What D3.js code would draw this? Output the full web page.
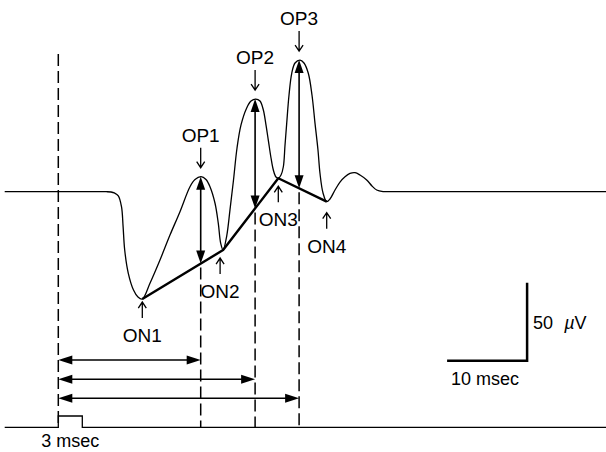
<!DOCTYPE html>
<html>
<head>
<meta charset="utf-8">
<script src="https://cdn.jsdelivr.net/npm/d3@7"></script>
<style>
  body { margin: 0; background: #fff; }
  svg text { font-family: "Liberation Sans", Arial, Helvetica, sans-serif; fill: #000; }
</style>
</head>
<body>
<div id="chart"></div>
<script>
// ERG trace, time in msec from the flash, amplitude in microvolts
const traceT = [-6.7, 3.0, 6.0, 6.6, 7.0, 7.5, 7.9, 8.1, 8.3, 8.75, 9.4, 9.96, 10.5,
  11.46, 12.71, 13.96, 15.21, 16.46, 17.09, 17.84, 18.46, 18.96, 19.59, 20.0, 20.3, 20.6,
  21.05, 21.46, 21.9, 22.34, 22.84, 23.55, 24.09, 24.68, 25.21, 25.63, 25.96, 26.25, 26.59, 26.88, 27.21, 27.5,
  27.84, 28.13, 28.34, 28.55, 28.84, 29.18, 29.59, 30.21, 30.71, 31.25, 31.71, 32.09, 32.46, 32.71, 33.09, 33.55,
  33.96, 34.59, 35.21, 35.84, 36.46, 37.09, 37.71, 38.55, 39.21, 39.8, 40.6, 41.4, 42.2, 45.0, 68.5];
const traceV = [0, 0, 0, -0.2, -0.8, -2.6, -9.6, -22.4, -37.4, -52.3, -63.0, -67.5, -68.8,
  -58.7, -43.8, -27.8, -12.8, 3.2, 7.8, 9.6, 7.8, 3.2, -7.4, -20.3, -33.1, -37.4,
  -28.4, -11.7, 7.5, 28.0, 42.8, 53.7, 58.1, 59.4, 58.1, 52.4, 42.8, 33.1, 21.6, 13.9, 9.4, 8.6,
  10.7, 16.0, 29.9, 43.8, 62.0, 75.9, 82.5, 84.4, 82.5, 75.9, 62.0, 43.8, 26.7, 11.8, -0.8, -6.4,
  -4.7, 1.1, 6.2, 9.6, 11.7, 12.2, 10.7, 7.5, 3.7, 1.1, 0.1, 0, 0, 0, 0];

// oscillatory potential peaks
const opNames = ["OP1", "OP2", "OP3"];
const opT = [17.8, 24.6, 30.1];
const opV = [9.6, 59.4, 84.4];

// troughs joined by the thick line
const onNames = ["ON1", "ON2", "ON3", "ON4"];
const onT = [10.5, 20.6, 27.5, 33.55];
const onV = [-68.8, -37.4, 8.6, -6.4];

// stimulus marker trace (3 msec flash)
const stimT = [-6.7, 0, 0, 3, 3, 68.5];
const stimLevel = [0, 0, 1, 1, 0, 0];

// calibration bars
const barMs = 10, barUv = 50;
const barCornerT = 58.6, barCornerV = -108.3;

const width = 606, height = 452;
const svg = d3.select("#chart").append("svg")
  .attr("width", width).attr("height", height);

const x = d3.scaleLinear().domain([0, 10]).range([58.3, 138.3]);
const y = d3.scaleLinear().domain([0, 50]).range([191.7, 113.7]);
const yStim = d3.scaleLinear().domain([0, 1]).range([427.3, 416]);
const yRow = d3.scaleLinear().domain([0, 2]).range([360, 398.3]);
const onLine = d3.scaleLinear().domain(onT).range(onV);

// filled triangle head, tip at (tx,ty), pointing in direction ang (radians)
function head(tx, ty, ang, len, w) {
  const bx = tx - len * Math.cos(ang), by = ty - len * Math.sin(ang);
  const px = -Math.sin(ang) * w / 2, py = Math.cos(ang) * w / 2;
  svg.append("path")
    .attr("d", `M${tx},${ty}L${bx + px},${by + py}L${bx - px},${by - py}Z`)
    .attr("fill", "#000");
}

// open label arrow
function smallArrow(x0, y0, y1) {
  const dir = y1 > y0 ? 1 : -1;
  svg.append("path")
    .attr("d", `M${x0},${y0}L${x0},${y1}M${x0 - 4},${y1 - dir * 6}L${x0},${y1}L${x0 + 4},${y1 - dir * 6}`)
    .attr("fill", "none").attr("stroke", "#000").attr("stroke-width", 1.3);
}

// dashed verticals
const dash = svg.append("g").attr("stroke", "#000").attr("stroke-width", 1.5)
  .attr("stroke-dasharray", "12,5");
dash.append("line").attr("x1", x(0)).attr("x2", x(0)).attr("y1", 54).attr("y2", yStim(0));
opT.forEach(t => {
  dash.append("line").attr("x1", x(t)).attr("x2", x(t))
    .attr("y1", y(onLine(t)) + 4).attr("y2", yStim(0));
});

// ERG trace
svg.append("path")
  .datum(traceT.map((t, i) => [t, traceV[i]]))
  .attr("fill", "none").attr("stroke", "#000").attr("stroke-width", 1.3)
  .attr("d", d3.line().x(d => x(d[0])).y(d => y(d[1])).curve(d3.curveCatmullRom.alpha(0.5)));

// thick line through the troughs
svg.append("path")
  .datum(onT.map((t, i) => [t, onV[i]]))
  .attr("fill", "none").attr("stroke", "#000").attr("stroke-width", 2.4)
  .attr("stroke-linejoin", "round")
  .attr("d", d3.line().x(d => x(d[0])).y(d => y(d[1])));

// OP amplitude double arrows
opT.forEach((t, i) => {
  const xx = x(t), top = y(opV[i]), bot = y(onLine(t));
  svg.append("line").attr("x1", xx).attr("x2", xx).attr("y1", top + 10).attr("y2", bot - 10)
    .attr("stroke", "#000").attr("stroke-width", 1.6);
  head(xx, top, -Math.PI / 2, 13, 9);
  head(xx, bot, Math.PI / 2, 13, 9);
});

// OP labels
opNames.forEach((name, i) => {
  const xx = x(opT[i]), tip = y(opV[i]) - 9;
  smallArrow(xx, tip - 20, tip);
  svg.append("text").attr("x", xx).attr("y", tip - 26)
    .attr("text-anchor", "middle").attr("font-size", 19).text(name);
});

// ON labels
const onGap = [3, 8, 8, 11], onDx = [0, -3, 0, 0];
onNames.forEach((name, i) => {
  const xx = x(onT[i]) + onDx[i], tip = y(onV[i]) + onGap[i];
  smallArrow(xx, tip + 16, tip);
  svg.append("text").attr("x", xx).attr("y", tip + 40)
    .attr("text-anchor", "middle").attr("font-size", 19).text(name);
});

// latency arrows from the flash to each OP
opT.forEach((t, i) => {
  const yy = yRow(i);
  svg.append("line").attr("x1", x(0) + 10).attr("x2", x(t) - 10).attr("y1", yy).attr("y2", yy)
    .attr("stroke", "#000").attr("stroke-width", 1.5);
  head(x(0), yy, Math.PI, 14, 9);
  head(x(t), yy, 0, 14, 9);
});

// stimulus trace
svg.append("path")
  .datum(stimT.map((t, i) => [t, stimLevel[i]]))
  .attr("fill", "none").attr("stroke", "#000").attr("stroke-width", 1.3)
  .attr("d", d3.line().x(d => x(d[0])).y(d => yStim(d[1])));
svg.append("text").attr("x", x(1.5)).attr("y", yStim(0) + 20)
  .attr("text-anchor", "middle").attr("font-size", 18).text("3 msec");

// calibration
const cx = x(barCornerT), cy = y(barCornerV);
svg.append("path")
  .attr("d", `M${x(barCornerT - barMs)},${cy}L${cx},${cy}L${cx},${y(barCornerV + barUv)}`)
  .attr("fill", "none").attr("stroke", "#000").attr("stroke-width", 2.5);
const uv = svg.append("text").attr("x", cx + 6).attr("y", (cy + y(barCornerV + barUv)) / 2 + 7)
  .attr("font-size", 18);
uv.append("tspan").text("50 ");
uv.append("tspan").attr("dx", 6).attr("font-style", "italic").text("\u00b5");
uv.append("tspan").text("V");
svg.append("text").attr("x", x(barCornerT - barMs) + 4).attr("y", cy + 24)
  .attr("font-size", 18).text("10 msec");
</script>
</body>
</html>
